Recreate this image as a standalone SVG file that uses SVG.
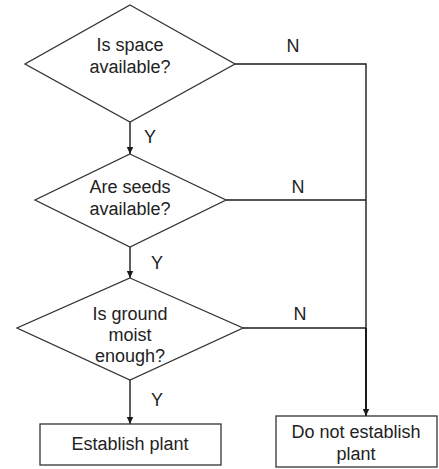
<svg xmlns="http://www.w3.org/2000/svg" width="439" height="469" viewBox="0 0 439 469">
  <style>
    .shape { fill: #ffffff; stroke: #333333; stroke-width: 1.3; }
    .line { fill: none; stroke: #1a1a1a; stroke-width: 1.4; }
    .thick { stroke-width: 2; }
    text { font-family: "Liberation Sans", Arial, sans-serif; font-size: 18px; fill: #222222; text-anchor: middle; }
  </style>
  <defs>
    <marker id="arrow" markerWidth="8" markerHeight="8" refX="7" refY="4" orient="auto" markerUnits="userSpaceOnUse">
      <path d="M0,0.8 L7,4 L0,7.2 Z" fill="#1a1a1a"/>
    </marker>
  </defs>
  <rect width="439" height="469" fill="#ffffff"/>

  <g id="connectors">
    <line class="line" x1="130" y1="122" x2="130" y2="154" marker-end="url(#arrow)"/>
    <line class="line" x1="130" y1="247" x2="130" y2="278" marker-end="url(#arrow)"/>
    <line class="line" x1="130" y1="380" x2="130" y2="424" marker-end="url(#arrow)"/>
    <polyline class="line" points="235,64 366,64 366,328"/>
    <line class="line" x1="226" y1="200" x2="366" y2="200"/>
    <line class="line" x1="243" y1="328" x2="366" y2="328"/>
    <line class="line thick" x1="366" y1="328" x2="366" y2="416" marker-end="url(#arrow)"/>
    <text x="293" y="52">N</text>
    <text x="298" y="193">N</text>
    <text x="300" y="320">N</text>
    <text x="150" y="143">Y</text>
    <text x="157" y="269">Y</text>
    <text x="157" y="406">Y</text>
  </g>

  <g id="space-check">
    <polygon class="shape" points="130,5 235,64 130,122 25,64"/>
    <text x="130" y="51">Is space</text>
    <text x="130" y="73">available?</text>
  </g>

  <g id="seeds-check">
    <polygon class="shape" points="130,154 226,200 130,247 35,200"/>
    <text x="130" y="193">Are seeds</text>
    <text x="130" y="215">available?</text>
  </g>

  <g id="moisture-check">
    <polygon class="shape" points="130,278 243,328 130,380 17,328"/>
    <text x="130" y="320">Is ground</text>
    <text x="130" y="341">moist</text>
    <text x="130" y="362">enough?</text>
  </g>

  <g id="establish">
    <rect class="shape" x="40" y="424" width="181" height="41"/>
    <text x="130" y="450">Establish plant</text>
  </g>

  <g id="do-not-establish">
    <rect class="shape" x="276" y="416" width="161" height="51"/>
    <text x="356" y="438">Do not establish</text>
    <text x="356" y="460">plant</text>
  </g>
</svg>
